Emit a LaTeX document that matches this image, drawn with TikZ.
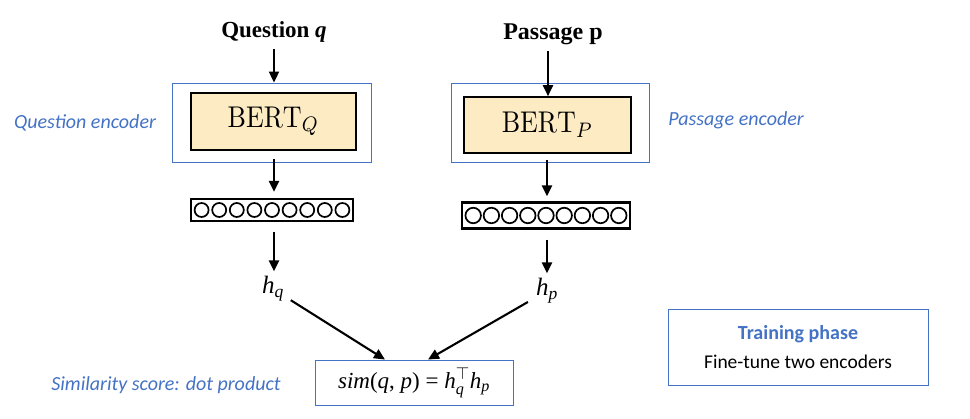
\documentclass[tikz,border=0pt]{standalone}
\usepackage{fontspec}
\usepackage{amsmath}
\usepackage{graphicx}
\usetikzlibrary{arrows.meta}
\newfontfamily\calfont{Carlito}
\newfontfamily\tms{Liberation Serif}
\newcommand\tmi[1]{{\tms\itshape #1}}
\definecolor{obl}{HTML}{4472C4}
\definecolor{bertfill}{HTML}{FDEBC4}
\tikzset{
  arr/.style={line width=2.1pt,-{Triangle[length=11pt,width=10pt]}},
  encbox/.style={draw=obl,line width=0.9pt,minimum width=199pt,minimum height=79pt,inner sep=0pt},
  bertbox/.style={draw=black,line width=1.6pt,fill=bertfill,inner sep=0pt},
  vecbox/.style={draw=black,line width=2.2pt,inner sep=0pt},
  bluelab/.style={text=obl,font=\calfont\itshape\fontsize{20}{23}\selectfont},
  toplab/.style={font=\tms\bfseries\fontsize{23}{27}\selectfont},
  hlab/.style={font=\tms\fontsize{25}{29}\selectfont,inner sep=1pt},
  circ/.style={draw=black,line width=1.7pt,circle,minimum size=14pt,inner sep=0pt}
}
\begin{document}
\begin{tikzpicture}[x=1pt,y=-1pt]
\useasboundingbox (0,0) rectangle (970,419);
\coordinate (xq) at (274,0);
\coordinate (xp) at (547,0);
% left column
\node[toplab] (qlab) at (274,32) {Question \tmi{q}};
\node[encbox] (qenc) at (271.5,122.5) {};
\node[bertbox,minimum width=165pt,minimum height=57pt] (bertq) at (273.5,121.5)
  {\scalebox{2.6}[3.0]{$\mathrm{BERT}_Q$}};
\node[vecbox,minimum width=162pt,minimum height=22pt] (vecq) at (272,210) {};
\foreach \i in {0,...,8}{
  \node[circ] (cq\i) at ({272+(\i-4)*17.6},210) {};
}
\node[hlab] (hq) at (273,289) {\tmi{h}$_{\text{\tmi{q}}}$};
% right column
\node[toplab,font=\tms\bfseries\fontsize{24}{28}\selectfont] (plab) at (553,34) {Passage p};
\node[encbox,minimum width=198pt] (penc) at (550,122.5) {};
\node[bertbox,minimum width=167pt,minimum height=56pt] (bertp) at (547.5,125)
  {\scalebox{2.6}[3.0]{$\mathrm{BERT}_P$}};
\node[vecbox,minimum width=168pt,minimum height=26pt] (vecp) at (546,215.5) {};
\foreach \i in {0,...,8}{
  \node[circ,minimum size=15.5pt] (cp\i) at ({546+(\i-4)*18.2},215.5) {};
}
\node[hlab] (hp) at (547,291) {\tmi{h}$_{\text{\tmi{p}}}$};
% similarity
\node[draw=obl,line width=0.9pt,minimum width=198pt,minimum height=45pt,inner sep=0pt,
  font=\tms\fontsize{23}{27}\selectfont] (sim) at (414,382.5)
  {\tmi{sim}(\tmi{q}, \tmi{p}) = \tmi{h}$_{\text{\tmi{q}}}^{\top}$\tmi{h}$_{\text{\tmi{p}}}$};
\coordinate (simL) at ([xshift=-29pt]sim.north);
\coordinate (simR) at ([xshift=14pt]sim.north);
% labels
\node[bluelab] (qenclab) at (85,123) {Question encoder};
\node[bluelab] (penclab) at (736,120) {Passage encoder};
\node[bluelab] (simlab) at (166,385) {Similarity score: dot product};
% training box
\node[draw=obl,line width=0.9pt,minimum width=260pt,minimum height=76pt,inner sep=0pt] (train) at (798,347) {};
\node[text=obl,font=\calfont\bfseries\fontsize{20}{23}\selectfont] (trainT) at (798,334) {Training phase};
\node[font=\calfont\fontsize{19.5}{23}\selectfont] (trainF) at (798,362) {Fine-tune two encoders};
% connector anchor points
\coordinate (a1s) at (xq |- qlab.south);
\coordinate (a1e) at (xq |- qenc.north);
\coordinate (b1s) at ([xshift=1pt]xp |- plab.south);
\coordinate (b1e) at ([xshift=1pt]xp |- bertp.north);
\coordinate (a2s) at (xq |- qenc.south);
\coordinate (a2e) at (xq |- vecq.north);
\coordinate (b2s) at (xp |- penc.south);
\coordinate (b2e) at (xp |- vecp.north);
\coordinate (a3s) at (xq |- vecq.south);
\coordinate (a3e) at (xq |- hq.north);
\coordinate (b3s) at (xp |- vecp.south);
\coordinate (b3e) at (xp |- hp.north);
% arrows
\draw[arr,shorten <=3pt] (a1s) -- (a1e);
\draw[arr,shorten <=3pt] (b1s) -- (b1e);
\draw[arr,shorten <=-3pt,shorten >=6pt] (a2s) -- (a2e);
\draw[arr,shorten <=-2pt,shorten >=5pt] (b2s) -- (b2e);
\draw[arr,shorten <=10pt,shorten >=4pt] (a3s) -- (a3e);
\draw[arr,shorten <=10pt,shorten >=4pt] (b3s) -- (b3e);
\draw[arr,shorten <=21pt] (hq.center) -- (simL);
\draw[arr,shorten <=22pt] (hp.center) -- (simR);
\end{tikzpicture}
\end{document}
